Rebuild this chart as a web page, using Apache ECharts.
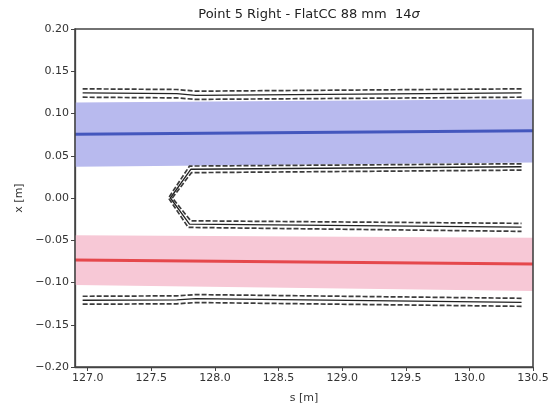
<!DOCTYPE html>
<html><head><meta charset="utf-8">
<script src="https://cdn.jsdelivr.net/npm/echarts@6/dist/echarts.min.js"></script>
<style>html,body{margin:0;padding:0;background:#fff}#c{width:552px;height:409px}</style>
</head><body><div id="c"></div>
<script>
// ---- data ----
const xTicks = [127.0, 127.5, 128.0, 128.5, 129.0, 129.5, 130.0, 130.5];
const yTicks = [-0.20, -0.15, -0.10, -0.05, 0.00, 0.05, 0.10, 0.15, 0.20];
const xRange = [126.9, 130.5];
const yRange = [-0.2, 0.2];

// beam 1 (blue) centre and envelope
const blueCentre = [[126.9, 0.0755], [130.5, 0.0795]];
const blueUpper  = [[126.9, 0.113], [130.5, 0.117]];
const blueLower  = [[126.9, 0.037], [130.5, 0.042]];
// beam 2 (red) centre and envelope
const redCentre = [[126.9, -0.0735], [130.5, -0.078]];
const redUpper  = [[126.9, -0.044], [130.5, -0.047]];
const redLower  = [[126.9, -0.103], [130.5, -0.110]];

// outer aperture, top
const outerTop      = [[126.96, 0.1243], [127.7, 0.1235], [127.85, 0.1215], [130.41, 0.1243]];
const outerTopUp    = [[126.96, 0.1292], [127.7, 0.1284], [127.85, 0.1264], [130.41, 0.1292]];
const outerTopDown  = [[126.96, 0.1193], [127.7, 0.1185], [127.85, 0.1167], [130.41, 0.1193]];
// outer aperture, bottom
const outerBot      = [[126.96, -0.121], [127.7, -0.1205], [127.85, -0.119], [130.41, -0.1235]];
const outerBotUp    = [[126.96, -0.1163], [127.7, -0.1158], [127.85, -0.1143], [130.41, -0.1187]];
const outerBotDown  = [[126.96, -0.1257], [127.7, -0.1252], [127.85, -0.1237], [130.41, -0.1282]];
// inner aperture (chevron)
const inner      = [[130.41, 0.037], [127.81, 0.034], [127.65, 0.0], [127.80, -0.031], [130.41, -0.0345]];
const innerOut   = [[130.41, 0.0405], [127.80, 0.0378], [127.635, 0.0], [127.79, -0.0348], [130.41, -0.0395]];
const innerIn    = [[130.41, 0.0330], [127.815, 0.0300], [127.665, 0.0], [127.81, -0.0270], [130.41, -0.0300]];

// ---- chart ----
const chart = echarts.init(document.getElementById('c'), null, {renderer: 'canvas'});
const FONT = 'DejaVu Sans';

function band(upper, lower, color) {
  const pts = upper.concat(lower.slice().reverse());
  return {
    type: 'custom', silent: true, z: 1,
    data: [[xRange[0], 0]],
    renderItem: function (params, api) {
      return {
        type: 'polygon',
        shape: { points: pts.map(p => api.coord(p)) },
        style: { fill: color, stroke: null }
      };
    },
    clip: true
  };
}
// axes box corners (top-left, top-right, bottom-right, bottom-left)
const boxPts = [[xRange[0], yRange[1]], [xRange[1], yRange[1]], [xRange[1], yRange[0]], [xRange[0], yRange[0]]];

function solid(data) {
  return { type: 'line', data: data, showSymbol: false, symbol: 'none', z: 3,
    lineStyle: { color: '#222', width: 1.3 }, animation: false, silent: true };
}
function dashed(data) {
  return { type: 'line', data: data, showSymbol: false, symbol: 'none', z: 3,
    lineStyle: { color: '#3c3c3c', width: 1.7, type: [5, 2] }, animation: false, silent: true };
}
function centre(data, color) {
  return { type: 'line', data: data, showSymbol: false, symbol: 'none', z: 2,
    lineStyle: { color: color, width: 3 }, animation: false, silent: true };
}

const fmtY = v => (v < 0 ? '\u2212' : '') + Math.abs(v).toFixed(2);

chart.setOption({
  animation: false,
  backgroundColor: '#fff',
  title: {
    text: 'Point 5 Right - FlatCC 88 mm  14{s|σ}',
    left: 304, top: 3, textAlign: 'center',
    textStyle: { fontFamily: FONT, fontSize: 13, fontWeight: 'normal', color: '#222',
      rich: { s: { fontFamily: FONT, fontSize: 13, fontStyle: 'italic', color: '#222' } } }
  },
  grid: { left: 75, right: 19, top: 29, bottom: 42 },
  xAxis: {
    type: 'value', min: xRange[0], max: xRange[1],
    name: 's [m]', nameLocation: 'middle', nameGap: 26,
    nameTextStyle: { fontFamily: FONT, fontSize: 11, color: '#333' },
    axisLine: { show: true, onZero: false, lineStyle: { color: '#444', width: 1.3 } },
    axisTick: { show: true, length: 4, lineStyle: { color: '#444' }, customValues: xTicks },
    axisLabel: { fontFamily: FONT, fontSize: 11, color: '#333', margin: 6, customValues: xTicks,
      formatter: v => v.toFixed(1) },
    splitLine: { show: false }
  },
  yAxis: {
    type: 'value', min: yRange[0], max: yRange[1], interval: 0.05,
    name: 'x [m]', nameLocation: 'middle', nameGap: 48,
    nameTextStyle: { fontFamily: FONT, fontSize: 11, color: '#333' },
    axisLine: { show: true, onZero: false, lineStyle: { color: '#444', width: 1.3 } },
    axisTick: { show: true, length: 4, lineStyle: { color: '#444' }, customValues: yTicks },
    axisLabel: { fontFamily: FONT, fontSize: 11, color: '#333', margin: 6, customValues: yTicks, formatter: fmtY },
    splitLine: { show: false }
  },
  series: [
    band(blueUpper, blueLower, 'rgb(184,186,238)'),
    band(redUpper, redLower, 'rgb(247,200,214)'),
    centre(blueCentre, '#4457bd'),
    centre(redCentre, '#e5484c'),
    solid(outerTop), dashed(outerTopUp), dashed(outerTopDown),
    solid(outerBot), dashed(outerBotUp), dashed(outerBotDown),
    solid(inner), dashed(innerOut), dashed(innerIn)
  ]
});

// full axes box, positioned through the chart's own scales
const px = boxPts.map(p => chart.convertToPixel({ gridIndex: 0 }, p));
chart.setOption({
  graphic: [{
    type: 'polygon', z: 100, silent: true,
    shape: { points: px },
    style: { stroke: '#444', lineWidth: 1.6, fill: 'rgba(0,0,0,0)' }
  }]
});
</script>
</body></html>
